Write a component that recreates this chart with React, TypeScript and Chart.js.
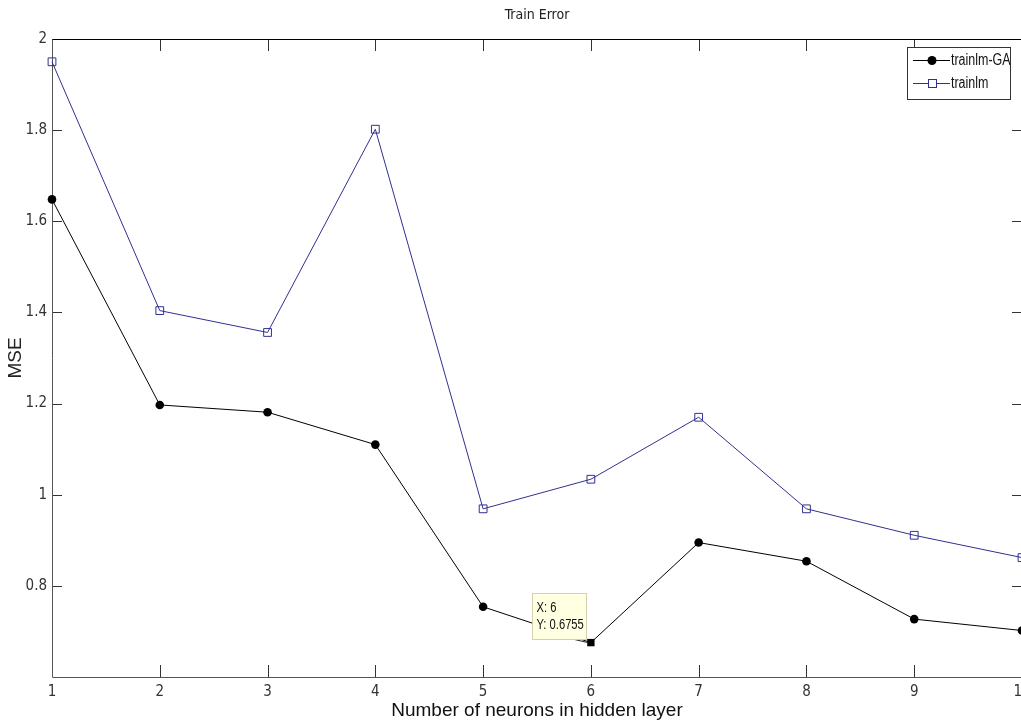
import React, { useEffect, useRef } from 'react';
import { Chart, registerables } from 'chart.js';

Chart.register(...registerables);

// ---- data ----
const neurons = [1, 2, 3, 4, 5, 6, 7, 8, 9, 10];
const trainlmGA = [1.648, 1.197, 1.181, 1.11, 0.754, 0.6755, 0.895, 0.854, 0.727, 0.702];
const trainlm = [1.95, 1.404, 1.356, 1.802, 0.969, 1.034, 1.17, 0.969, 0.911, 0.862];
const xTicks = [1, 2, 3, 4, 5, 6, 7, 8, 9, 10];
const yTicks = [0.8, 1, 1.2, 1.4, 1.6, 1.8, 2];
const seriesNames = ['trainlm-GA', 'trainlm'];
const chartTitle = 'Train Error';
const xTitle = 'Number of neurons in hidden layer';
const yTitle = 'MSE';
const tipIndex = 5;

const NARROW = '"DejaVu Sans Condensed", "Liberation Sans Narrow", "Liberation Sans", Arial, sans-serif';
const REGULAR = '"Liberation Sans", Arial, sans-serif';
const BLUE = '#30308f';

function squeezedText(ctx: any, text: string, x: number, y: number, size: number, sx: number) {
  ctx.save();
  ctx.translate(x, y);
  ctx.scale(sx, 1);
  ctx.font = size + 'px ' + REGULAR;
  ctx.textAlign = 'left';
  ctx.textBaseline = 'middle';
  ctx.fillText(text, 0, 0);
  ctx.restore();
}

const framePlugin = {
  id: 'matlabFrame',
  beforeDatasetsDraw(chart: any) {
    const { ctx, chartArea } = chart;
    const { left, right, top, bottom } = chartArea;
    const xs = chart.scales.x;
    const ys = chart.scales.y;
    ctx.save();
    ctx.lineWidth = 1;
    ctx.strokeStyle = '#333';
    ctx.beginPath();
    xTicks.forEach((v) => {
      const px = Math.round(xs.getPixelForValue(v)) + 0.5;
      ctx.moveTo(px, bottom);
      ctx.lineTo(px, bottom - 12);
      ctx.moveTo(px, top);
      ctx.lineTo(px, top + 12);
    });
    yTicks.forEach((v) => {
      const py = Math.round(ys.getPixelForValue(v)) + 0.5;
      ctx.moveTo(left, py);
      ctx.lineTo(left + 10, py);
      ctx.moveTo(right, py);
      ctx.lineTo(right - 10, py);
    });
    ctx.stroke();
    const l = Math.round(left) + 0.5;
    const r = Math.round(right) - 0.5;
    const t = Math.round(top) + 0.5;
    const b = Math.round(bottom) + 0.5;
    ctx.strokeStyle = '#000';
    ctx.beginPath();
    ctx.moveTo(l, t);
    ctx.lineTo(r, t);
    ctx.lineTo(r, b);
    ctx.stroke();
    ctx.strokeStyle = '#555';
    ctx.beginPath();
    ctx.moveTo(l, t);
    ctx.lineTo(l, b);
    ctx.lineTo(r, b);
    ctx.stroke();
    ctx.restore();
  },
};

const overlayPlugin = {
  id: 'matlabOverlay',
  afterDatasetsDraw(chart: any) {
    const { ctx } = chart;
    const xs = chart.scales.x;
    const ys = chart.scales.y;
    ctx.save();
    // data tip
    const px = xs.getPixelForValue(neurons[tipIndex]);
    const py = ys.getPixelForValue(trainlmGA[tipIndex]);
    const bx = Math.round(px - 59) + 0.5;
    const by = Math.round(py - 50) + 0.5;
    const bw = 54;
    const bh = 46;
    ctx.strokeStyle = '#222';
    ctx.lineWidth = 1;
    ctx.beginPath();
    ctx.moveTo(px - 16, py - 3);
    ctx.lineTo(px - 3, py);
    ctx.stroke();
    ctx.fillStyle = '#ffffe1';
    ctx.fillRect(bx, by, bw, bh);
    ctx.strokeStyle = '#d4d0b0';
    ctx.strokeRect(bx, by, bw, bh);
    ctx.fillStyle = '#111';
    squeezedText(ctx, 'X: ' + neurons[tipIndex], bx + 4, by + 15, 14, 0.8);
    squeezedText(ctx, 'Y: ' + trainlmGA[tipIndex], bx + 4, by + 32, 14, 0.8);

    // legend
    const lx = 907.5;
    const ly = 47.5;
    const lw = 103;
    const lh = 52;
    ctx.fillStyle = '#fff';
    ctx.fillRect(lx, ly, lw, lh);
    ctx.strokeStyle = '#333';
    ctx.strokeRect(lx, ly, lw, lh);
    const rows = [
      { name: seriesNames[0], color: '#000', y: 60 },
      { name: seriesNames[1], color: BLUE, y: 83 },
    ];
    rows.forEach((row, i) => {
      ctx.strokeStyle = row.color;
      ctx.beginPath();
      ctx.moveTo(913, row.y + 0.5);
      ctx.lineTo(950, row.y + 0.5);
      ctx.stroke();
      if (i === 0) {
        ctx.fillStyle = '#000';
        ctx.beginPath();
        ctx.arc(932, row.y + 0.5, 4.5, 0, Math.PI * 2);
        ctx.fill();
      } else {
        ctx.fillStyle = '#fff';
        ctx.fillRect(928.5, row.y - 3.5, 8, 8);
        ctx.strokeRect(928.5, row.y - 3.5, 8, 8);
      }
      ctx.fillStyle = '#111';
      squeezedText(ctx, row.name, 951, row.y + 1, 16, 0.78);
    });
    ctx.restore();
  },
};

export default function App() {
  const canvasRef = useRef<HTMLCanvasElement | null>(null);

  useEffect(() => {
    document.body.style.margin = '0';
    const canvas = canvasRef.current;
    if (!canvas) return;
    const chart = new Chart(canvas, {
      type: 'line',
      data: {
        datasets: [
          {
            label: seriesNames[1],
            data: neurons.map((x, i) => ({ x, y: trainlm[i] })),
            borderColor: BLUE,
            borderWidth: 1,
            pointStyle: 'rect',
            pointRadius: 5.5,
            pointBorderWidth: 1,
            pointBorderColor: BLUE,
            pointBackgroundColor: 'rgba(0,0,0,0)',
            tension: 0,
            clip: false,
          } as any,
          {
            label: seriesNames[0],
            data: neurons.map((x, i) => ({ x, y: trainlmGA[i] })),
            borderColor: '#000',
            borderWidth: 1,
            pointStyle: (c: any) => (c.dataIndex === tipIndex ? 'rect' : 'circle'),
            pointRadius: (c: any) => (c.dataIndex === tipIndex ? 5.2 : 4.3),
            pointBorderWidth: 0,
            pointBackgroundColor: '#000',
            pointBorderColor: '#000',
            tension: 0,
            clip: false,
          } as any,
        ],
      },
      options: {
        animation: false,
        responsive: false,
        maintainAspectRatio: false,
        layout: { padding: { top: 0, left: 0, right: 38, bottom: 0 } },
        plugins: {
          legend: { display: false },
          tooltip: { enabled: false },
          title: {
            display: true,
            text: chartTitle,
            fullSize: false,
            color: '#222',
            font: { family: NARROW, size: 14, weight: 'normal' },
            padding: { top: 6.6, bottom: 15.6 },
          },
        },
        scales: {
          x: {
            type: 'linear',
            min: 1,
            max: 10,
            afterBuildTicks: (s: any) => {
              s.ticks = xTicks.map((v) => ({ value: v }));
            },
            afterFit: (s: any) => {
              s.height = 49;
            },
            grid: { display: false, drawTicks: false },
            border: { display: false },
            ticks: {
              autoSkip: false,
              maxRotation: 0,
              padding: 6,
              color: '#333',
              font: { family: NARROW, size: 15 },
              callback: (v: any) => String(v),
            },
            title: {
              display: true,
              text: xTitle,
              color: '#111',
              font: { family: REGULAR, size: 19 },
              padding: { top: 0, bottom: 3.6 },
            },
          },
          y: {
            type: 'linear',
            min: 0.6,
            max: 2,
            afterBuildTicks: (s: any) => {
              s.ticks = yTicks.map((v) => ({ value: v }));
            },
            afterFit: (s: any) => {
              s.width = 52;
            },
            grid: { display: false, drawTicks: false },
            border: { display: false },
            ticks: {
              padding: 5,
              color: '#333',
              font: { family: NARROW, size: 15 },
              callback: (v: any) => String(Math.round(Number(v) * 10) / 10),
            },
            title: {
              display: true,
              text: yTitle,
              color: '#222',
              font: { family: REGULAR, size: 19 },
              padding: { top: 4, bottom: 0 },
            },
          },
        },
      },
      plugins: [framePlugin, overlayPlugin],
    } as any);
    return () => chart.destroy();
  }, []);

  return (
    <div style={{ width: 1021, height: 726, overflow: 'hidden', position: 'relative', background: '#fff' }}>
      <canvas ref={canvasRef} width={1060} height={726} style={{ width: 1060, height: 726, display: 'block' }} />
    </div>
  );
}
